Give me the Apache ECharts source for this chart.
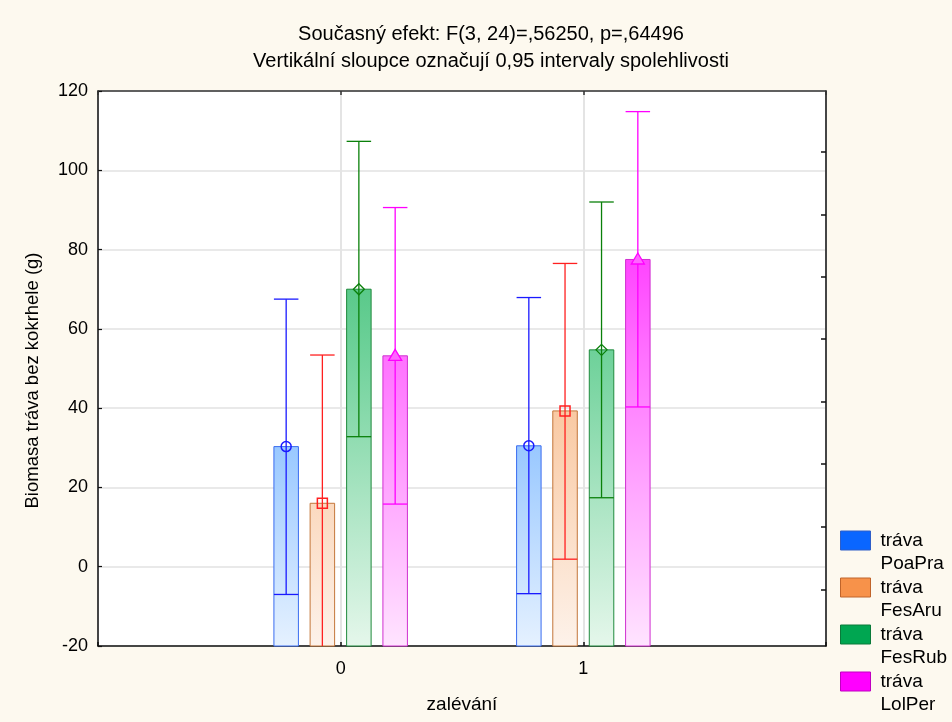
<!DOCTYPE html>
<html>
<head>
<meta charset="utf-8">
<script src="https://cdn.jsdelivr.net/npm/echarts@6/dist/echarts.min.js"></script>
<style>
html, body { margin: 0; padding: 0; background: #fdf9ef; }
#graf { width: 952px; height: 722px; }
</style>
</head>
<body>
<div id="graf"></div>
<script>
// zalevani = skupiny na ose x
var zalevani = [0, 1];
var druhy = ['tráva PoaPra', 'tráva FesAru', 'tráva FesRub', 'tráva LolPer'];

// prumery a 0,95 intervaly spolehlivosti
var prumer_PoaPra = [30.3, 30.5];
var dolni_PoaPra  = [-7.0, -6.8];
var horni_PoaPra  = [67.5, 67.9];

var prumer_FesAru = [16.0, 39.3];
var dolni_FesAru  = [-21.4, 1.9];
var horni_FesAru  = [53.4, 76.5];

var prumer_FesRub = [70.0, 54.7];
var dolni_FesRub  = [32.8, 17.4];
var horni_FesRub  = [107.3, 92.0];

var prumer_LolPer = [53.2, 77.5];
var dolni_LolPer  = [15.8, 40.3];
var horni_LolPer  = [90.6, 114.8];

var yMin = -20, yMax = 120, yKrok = 20;
var praveTicky = [104.7, 88.9, 73.2, 57.4, 41.6, 25.9, 10.1, -5.7];

var styly = [
    {posun: -54.5, okraj: '#3a6cf0', cara: '#1a1aff', legenda: '#0a66ff', legOkraj: '#2f5fc8', znacka: 'kruh',
     stops: [{offset: 0, color: '#3585ff'}, {offset: 0.64, color: '#99c8ff'}, {offset: 1, color: '#e5f1ff'}]},
    {posun: -18.3, okraj: '#c4763a', cara: '#ff2020', legenda: '#f7924a', legOkraj: '#c0642a', znacka: 'ctverec',
     stops: [{offset: 0, color: '#f39650'}, {offset: 0.576, color: '#f9c9a3'}, {offset: 1, color: '#fdf2ea'}]},
    {posun: 18.2, okraj: '#1f8a3c', cara: '#0a800a', legenda: '#00a651', legOkraj: '#0a7a3a', znacka: 'kosoctverec',
     stops: [{offset: 0, color: '#10a858'}, {offset: 0.357, color: '#5ac98a'}, {offset: 0.466, color: '#6dd199'}, {offset: 1, color: '#e5f7eb'}]},
    {posun: 54.5, okraj: '#d030d0', cara: '#ff00ff', legenda: '#ff00ff', legOkraj: '#c000c0', znacka: 'trojuhelnik',
     stops: [{offset: 0, color: '#ff10ff'}, {offset: 0.304, color: '#ff44ff'}, {offset: 0.479, color: '#ff72ff'}, {offset: 1, color: '#ffe4ff'}]}
];

var prumery = [prumer_PoaPra, prumer_FesAru, prumer_FesRub, prumer_LolPer];
var dolni = [dolni_PoaPra, dolni_FesAru, dolni_FesRub, dolni_LolPer];
var horni = [horni_PoaPra, horni_FesAru, horni_FesRub, horni_LolPer];

function znacka(typ, cx, cy, barva) {
    if (typ == 'kruh') {
        return {type: 'circle', shape: {cx: cx, cy: cy, r: 5}, style: {fill: 'none', stroke: barva, lineWidth: 1.5}};
    }
    if (typ == 'ctverec') {
        return {type: 'rect', shape: {x: cx - 5, y: cy - 5, width: 10, height: 10}, style: {fill: 'none', stroke: barva, lineWidth: 1.5}};
    }
    if (typ == 'kosoctverec') {
        return {type: 'polygon', shape: {points: [[cx, cy - 5.5], [cx + 5.5, cy], [cx, cy + 5.5], [cx - 5.5, cy]]}, style: {fill: 'none', stroke: barva, lineWidth: 1.3}};
    }
    return {type: 'polygon', shape: {points: [[cx, cy - 6.5], [cx + 6.5, cy + 4.5], [cx - 6.5, cy + 4.5]]}, style: {fill: '#ff66ff', stroke: barva, lineWidth: 1.3}};
}

function kresli(s) {
    return function (params, api) {
        var x = api.value(0);
        var vrch = api.coord([x, api.value(1)]);
        var dno = api.coord([x, yMin])[1];
        var strop = api.coord([x, yMax])[1];
        var lo = api.coord([x, api.value(2)])[1];
        var hi = api.coord([x, api.value(3)])[1];
        var cx = vrch[0] + s.posun;
        var w = 24.5, p = w / 2;
        var deti = [
            {type: 'rect', shape: {x: cx - p, y: vrch[1], width: w, height: dno - vrch[1]},
             style: {fill: new echarts.graphic.LinearGradient(0, strop, 0, dno, s.stops, true), stroke: s.okraj, lineWidth: 1}},
            {type: 'line', shape: {x1: cx, y1: hi, x2: cx, y2: Math.min(lo, dno)}, style: {stroke: s.cara, lineWidth: 1.3}},
            {type: 'line', shape: {x1: cx - p, y1: hi, x2: cx + p, y2: hi}, style: {stroke: s.cara, lineWidth: 1.3}}
        ];
        if (lo <= dno) {
            deti.push({type: 'line', shape: {x1: cx - p, y1: lo, x2: cx + p, y2: lo}, style: {stroke: s.cara, lineWidth: 1.3}});
        }
        deti.push(znacka(s.znacka, cx, vrch[1], s.cara));
        return {type: 'group', children: deti};
    };
}

var serie = [];
var legendaData = [];
for (var i = 0; i < druhy.length; i++) {
    var data = [];
    for (var j = 0; j < zalevani.length; j++) {
        data.push([zalevani[j], prumery[i][j], dolni[i][j], horni[i][j]]);
    }
    serie.push({
        name: druhy[i],
        type: 'custom',
        renderItem: kresli(styly[i]),
        itemStyle: {color: styly[i].legenda},
        encode: {x: 0, y: [1, 2, 3]},
        data: data
    });
    legendaData.push({name: druhy[i], itemStyle: {color: styly[i].legenda, borderColor: styly[i].legOkraj, borderWidth: 1}});
}

var myChart = echarts.init(document.getElementById('graf'));
var pismo = 'Liberation Sans, Arial, sans-serif';

myChart.setOption({
    backgroundColor: '#fdf9ef',
    animation: false,
    title: {
        text: 'Současný efekt: F(3, 24)=,56250, p=,64496\nVertikální sloupce označují 0,95 intervaly spolehlivosti',
        left: 486, top: 16, textAlign: 'center',
        textStyle: {fontFamily: pismo, fontSize: 20, fontWeight: 'normal', color: '#000', lineHeight: 27}
    },
    legend: {
        orient: 'vertical',
        left: 840, top: 506,
        padding: 0,
        icon: 'rect',
        itemWidth: 30, itemHeight: 19,
        itemGap: -22,
        data: legendaData,
        formatter: function (n) { return '\n' + n.replace(' ', '\n'); },
        textStyle: {fontFamily: pismo, fontSize: 19, color: '#000', lineHeight: 23, padding: [0, 0, 0, 5]}
    },
    graphic: [
        {type: 'circle', left: 850, top: 535, shape: {r: 5}, style: {fill: 'none', stroke: '#0000ff', lineWidth: 1.5}},
        {type: 'rect', left: 850, top: 582, shape: {width: 10, height: 10}, style: {fill: 'none', stroke: '#ff0000', lineWidth: 1.5}},
        {type: 'polygon', left: 850, top: 629, shape: {points: [[5, 0], [10, 5], [5, 10], [0, 5]]}, style: {fill: 'none', stroke: '#006400', lineWidth: 1.2}}
    ],
    grid: {left: 98, right: 126, top: 91, bottom: 76, show: true, backgroundColor: '#ffffff', borderWidth: 0},
    xAxis: [{
        type: 'value', min: -1, max: 2, interval: 1,
        name: 'zalévání', nameLocation: 'middle', nameGap: 49,
        nameTextStyle: {fontFamily: pismo, fontSize: 19, color: '#000'},
        axisLine: {onZero: false, lineStyle: {color: '#111', width: 1.5}},
        axisTick: {inside: true, length: 4, lineStyle: {color: '#111', width: 1.5}},
        axisLabel: {fontFamily: pismo, fontSize: 18, color: '#000', margin: 14,
            formatter: function (v) { return (v === 0 || v === 1) ? String(v) : ''; }},
        splitLine: {show: true, lineStyle: {color: '#e4e4e4', width: 2}}
    }, {
        type: 'value', position: 'top', min: -1, max: 2, interval: 1,
        axisLine: {show: true, onZero: false, lineStyle: {color: '#333', width: 1.5}},
        axisTick: {inside: true, length: 4, lineStyle: {color: '#333', width: 1.5}},
        axisLabel: {show: false},
        splitLine: {show: false}
    }],
    yAxis: [{
        type: 'value', min: yMin, max: yMax, interval: yKrok,
        name: 'Biomasa tráva bez kokrhele (g)', nameLocation: 'middle', nameGap: 56, nameRotate: 90,
        nameTextStyle: {fontFamily: pismo, fontSize: 18.5, color: '#000', padding: [0, 24, 0, 0]},
        axisLine: {show: true, onZero: false, lineStyle: {color: '#111', width: 1.5}},
        axisTick: {show: true, inside: true, length: 4, lineStyle: {color: '#111', width: 1.2}},
        axisLabel: {fontFamily: pismo, fontSize: 18, color: '#000', margin: 10},
        splitLine: {show: true, lineStyle: {color: '#e2e2e2', width: 1.5}}
    }, {
        type: 'value', position: 'right', min: yMin, max: yMax,
        axisLine: {show: true, onZero: false, lineStyle: {color: '#111', width: 1.5}},
        axisTick: {show: true, inside: true, length: 5, customValues: praveTicky, lineStyle: {color: '#111', width: 1.5}},
        axisLabel: {show: false},
        splitLine: {show: false}
    }],
    series: serie
});
</script>
</body>
</html>
